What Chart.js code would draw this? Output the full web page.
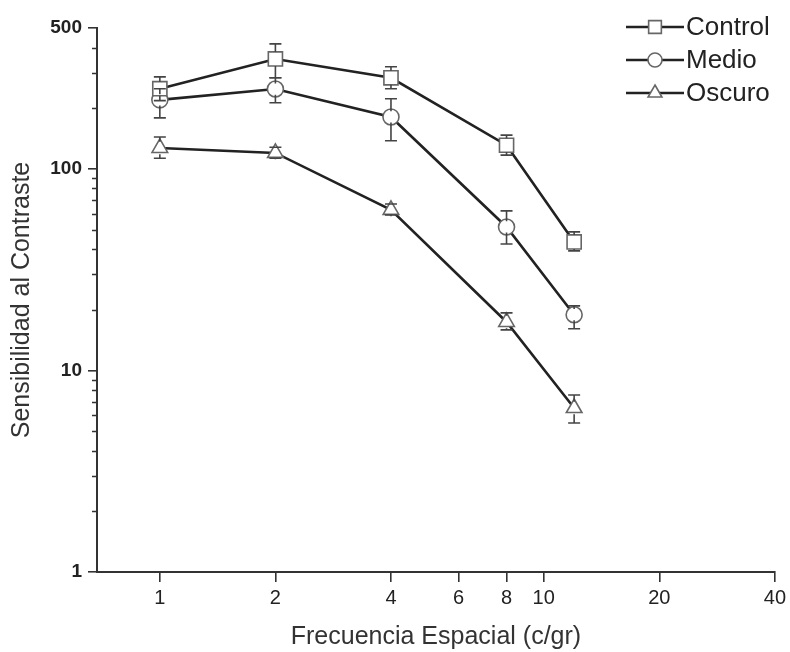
<!DOCTYPE html>
<html>
<head>
<meta charset="utf-8">
<script src="https://cdn.jsdelivr.net/npm/chart.js@4"></script>
<style>
  html, body { margin: 0; padding: 0; background: #fff; }
  #wrap { width: 790px; height: 652px; }
</style>
</head>
<body>
<div id="wrap"><canvas id="csf"></canvas></div>
<script>
// spatial frequency (c/gr)
const freqs = [1, 2, 4, 8, 12];

const control = [250, 351, 283, 131, 43.4];
const controlHi = [286, 417, 321, 147, 48.7];
const controlLo = [218, 283, 250, 117, 39.2];

const medio = [220, 249, 181, 51.5, 18.9];
const medioHi = [250, 283, 223, 61.9, 20.9];
const medioLo = [179, 213, 138, 42.4, 16.1];

const oscuro = [127, 120, 62.6, 17.4, 6.51];
const oscuroHi = [144, 128, 67, 19.3, 7.56];
const oscuroLo = [113, 113, 59, 15.9, 5.49];

const xTicks = [1, 2, 4, 6, 8, 10, 20, 40];
const yTicks = [1, 10, 100, 500];

const seriesNames = ['Control', 'Medio', 'Oscuro'];

const FONT = 'Liberation Sans, Arial, sans-serif';
const INK = '#222';
const MARK = '#666';

const toPoints = (vals) => vals.map((v, i) => ({ x: freqs[i], y: v }));

const makeSet = (label, vals, hi, lo, style, radius) => ({
  label: label,
  data: toPoints(vals),
  errHi: hi,
  errLo: lo,
  borderColor: INK,
  borderWidth: 2.6,
  pointStyle: style,
  pointRadius: radius,
  pointBorderColor: MARK,
  pointBorderWidth: 1.6,
  pointBackgroundColor: '#fff',
  tension: 0,
});

// error bars, drawn under the markers
const errorBars = {
  id: 'errorBars',
  afterDatasetsDraw(chart) {
    const { ctx, scales } = chart;
    ctx.save();
    ctx.strokeStyle = '#444';
    ctx.lineWidth = 1.6;
    chart.data.datasets.forEach((ds) => {
      ds.data.forEach((p, i) => {
        const x = scales.x.getPixelForValue(p.x);
        const yh = scales.y.getPixelForValue(ds.errHi[i]);
        const yl = scales.y.getPixelForValue(ds.errLo[i]);
        const yc = scales.y.getPixelForValue(p.y);
        const r = ds.pointRadius;
        ctx.beginPath();
        ctx.moveTo(x, yh); ctx.lineTo(x, yc - r * 0.7);
        ctx.moveTo(x, yc + r * 0.7); ctx.lineTo(x, yl);
        ctx.moveTo(x - 6, yh); ctx.lineTo(x + 6, yh);
        ctx.moveTo(x - 6, yl); ctx.lineTo(x + 6, yl);
        ctx.stroke();
      });
    });
    ctx.restore();
  },
};

// log minor ticks on the y axis
const minorTicks = {
  id: 'minorTicks',
  afterDraw(chart) {
    const { ctx, scales } = chart;
    const y = scales.y;
    const x0 = chart.chartArea.left;
    ctx.save();
    ctx.strokeStyle = '#333';
    ctx.lineWidth = 1.6;
    ctx.beginPath();
    for (let dec = 1; dec <= 100; dec *= 10) {
      for (let m = 2; m <= 9; m++) {
        const v = m * dec;
        if (v >= 500) break;
        const py = Math.round(y.getPixelForValue(v)) + 0.5;
        ctx.moveTo(x0 - 5, py);
        ctx.lineTo(x0, py);
      }
    }
    ctx.stroke();
    ctx.restore();
  },
};

// legend: line with marker in the middle
const lineLegend = {
  id: 'lineLegend',
  afterDraw(chart) {
    const { ctx } = chart;
    const rows = [27, 60, 93];
    ctx.save();
    chart.data.datasets.forEach((ds, i) => {
      const yy = rows[i];
      ctx.strokeStyle = INK;
      ctx.lineWidth = 2.6;
      ctx.beginPath();
      ctx.moveTo(626, yy);
      ctx.lineTo(684, yy);
      ctx.stroke();
      ctx.fillStyle = '#fff';
      ctx.strokeStyle = MARK;
      ctx.lineWidth = 1.6;
      Chart.helpers.drawPoint(ctx, { pointStyle: ds.pointStyle, radius: ds.pointRadius - 1, borderWidth: 1.6 }, 655, yy);
      ctx.fillStyle = INK;
      ctx.font = '26px ' + FONT;
      ctx.textBaseline = 'middle';
      ctx.fillText(seriesNames[i], 686, yy + 1);
    });
    ctx.restore();
  },
};

new Chart(document.getElementById('csf'), {
  type: 'line',
  data: {
    datasets: [
      makeSet('Control', control, controlHi, controlLo, 'rect', 10),
      makeSet('Medio', medio, medioHi, medioLo, 'circle', 8),
      makeSet('Oscuro', oscuro, oscuroHi, oscuroLo, 'triangle', 9),
    ],
  },
  options: {
    responsive: true,
    maintainAspectRatio: false,
    animation: false,
    layout: { padding: { top: 28, right: 14, left: 0, bottom: 0 } },
    plugins: { legend: { display: false }, tooltip: { enabled: false } },
    scales: {
      x: {
        type: 'logarithmic',
        min: 0.686,
        max: 40,
        afterBuildTicks: (s) => { s.ticks = xTicks.map((v) => ({ value: v })); },
        afterFit: (s) => { s.height = 80; },
        border: { color: '#333', width: 2 },
        grid: { drawOnChartArea: false, tickLength: 10, color: '#333', lineWidth: 1.6 },
        ticks: {
          color: INK,
          font: { family: FONT, size: 20 },
          padding: 4,
          maxRotation: 0,
          autoSkip: false,
          callback: (v) => String(v),
        },
        title: {
          display: true,
          text: 'Frecuencia Espacial (c/gr)',
          color: '#333',
          font: { family: FONT, size: 25 },
          padding: { top: 0, bottom: 0 },
        },
      },
      y: {
        type: 'logarithmic',
        min: 1,
        max: 500,
        afterBuildTicks: (s) => { s.ticks = yTicks.map((v) => ({ value: v })); },
        afterFit: (s) => { s.width = 97; },
        border: { color: '#333', width: 2 },
        grid: { drawOnChartArea: false, tickLength: 9, color: '#333', lineWidth: 1.6 },
        ticks: {
          color: INK,
          font: { family: FONT, size: 19, weight: 'bold' },
          padding: 6,
          autoSkip: false,
          callback: (v) => String(v),
        },
        title: {
          display: true,
          text: 'Sensibilidad al Contraste',
          color: '#333',
          font: { family: FONT, size: 25 },
          padding: { top: 7, bottom: 0 },
        },
      },
    },
  },
  plugins: [errorBars, minorTicks, lineLegend],
});
</script>
</body>
</html>
